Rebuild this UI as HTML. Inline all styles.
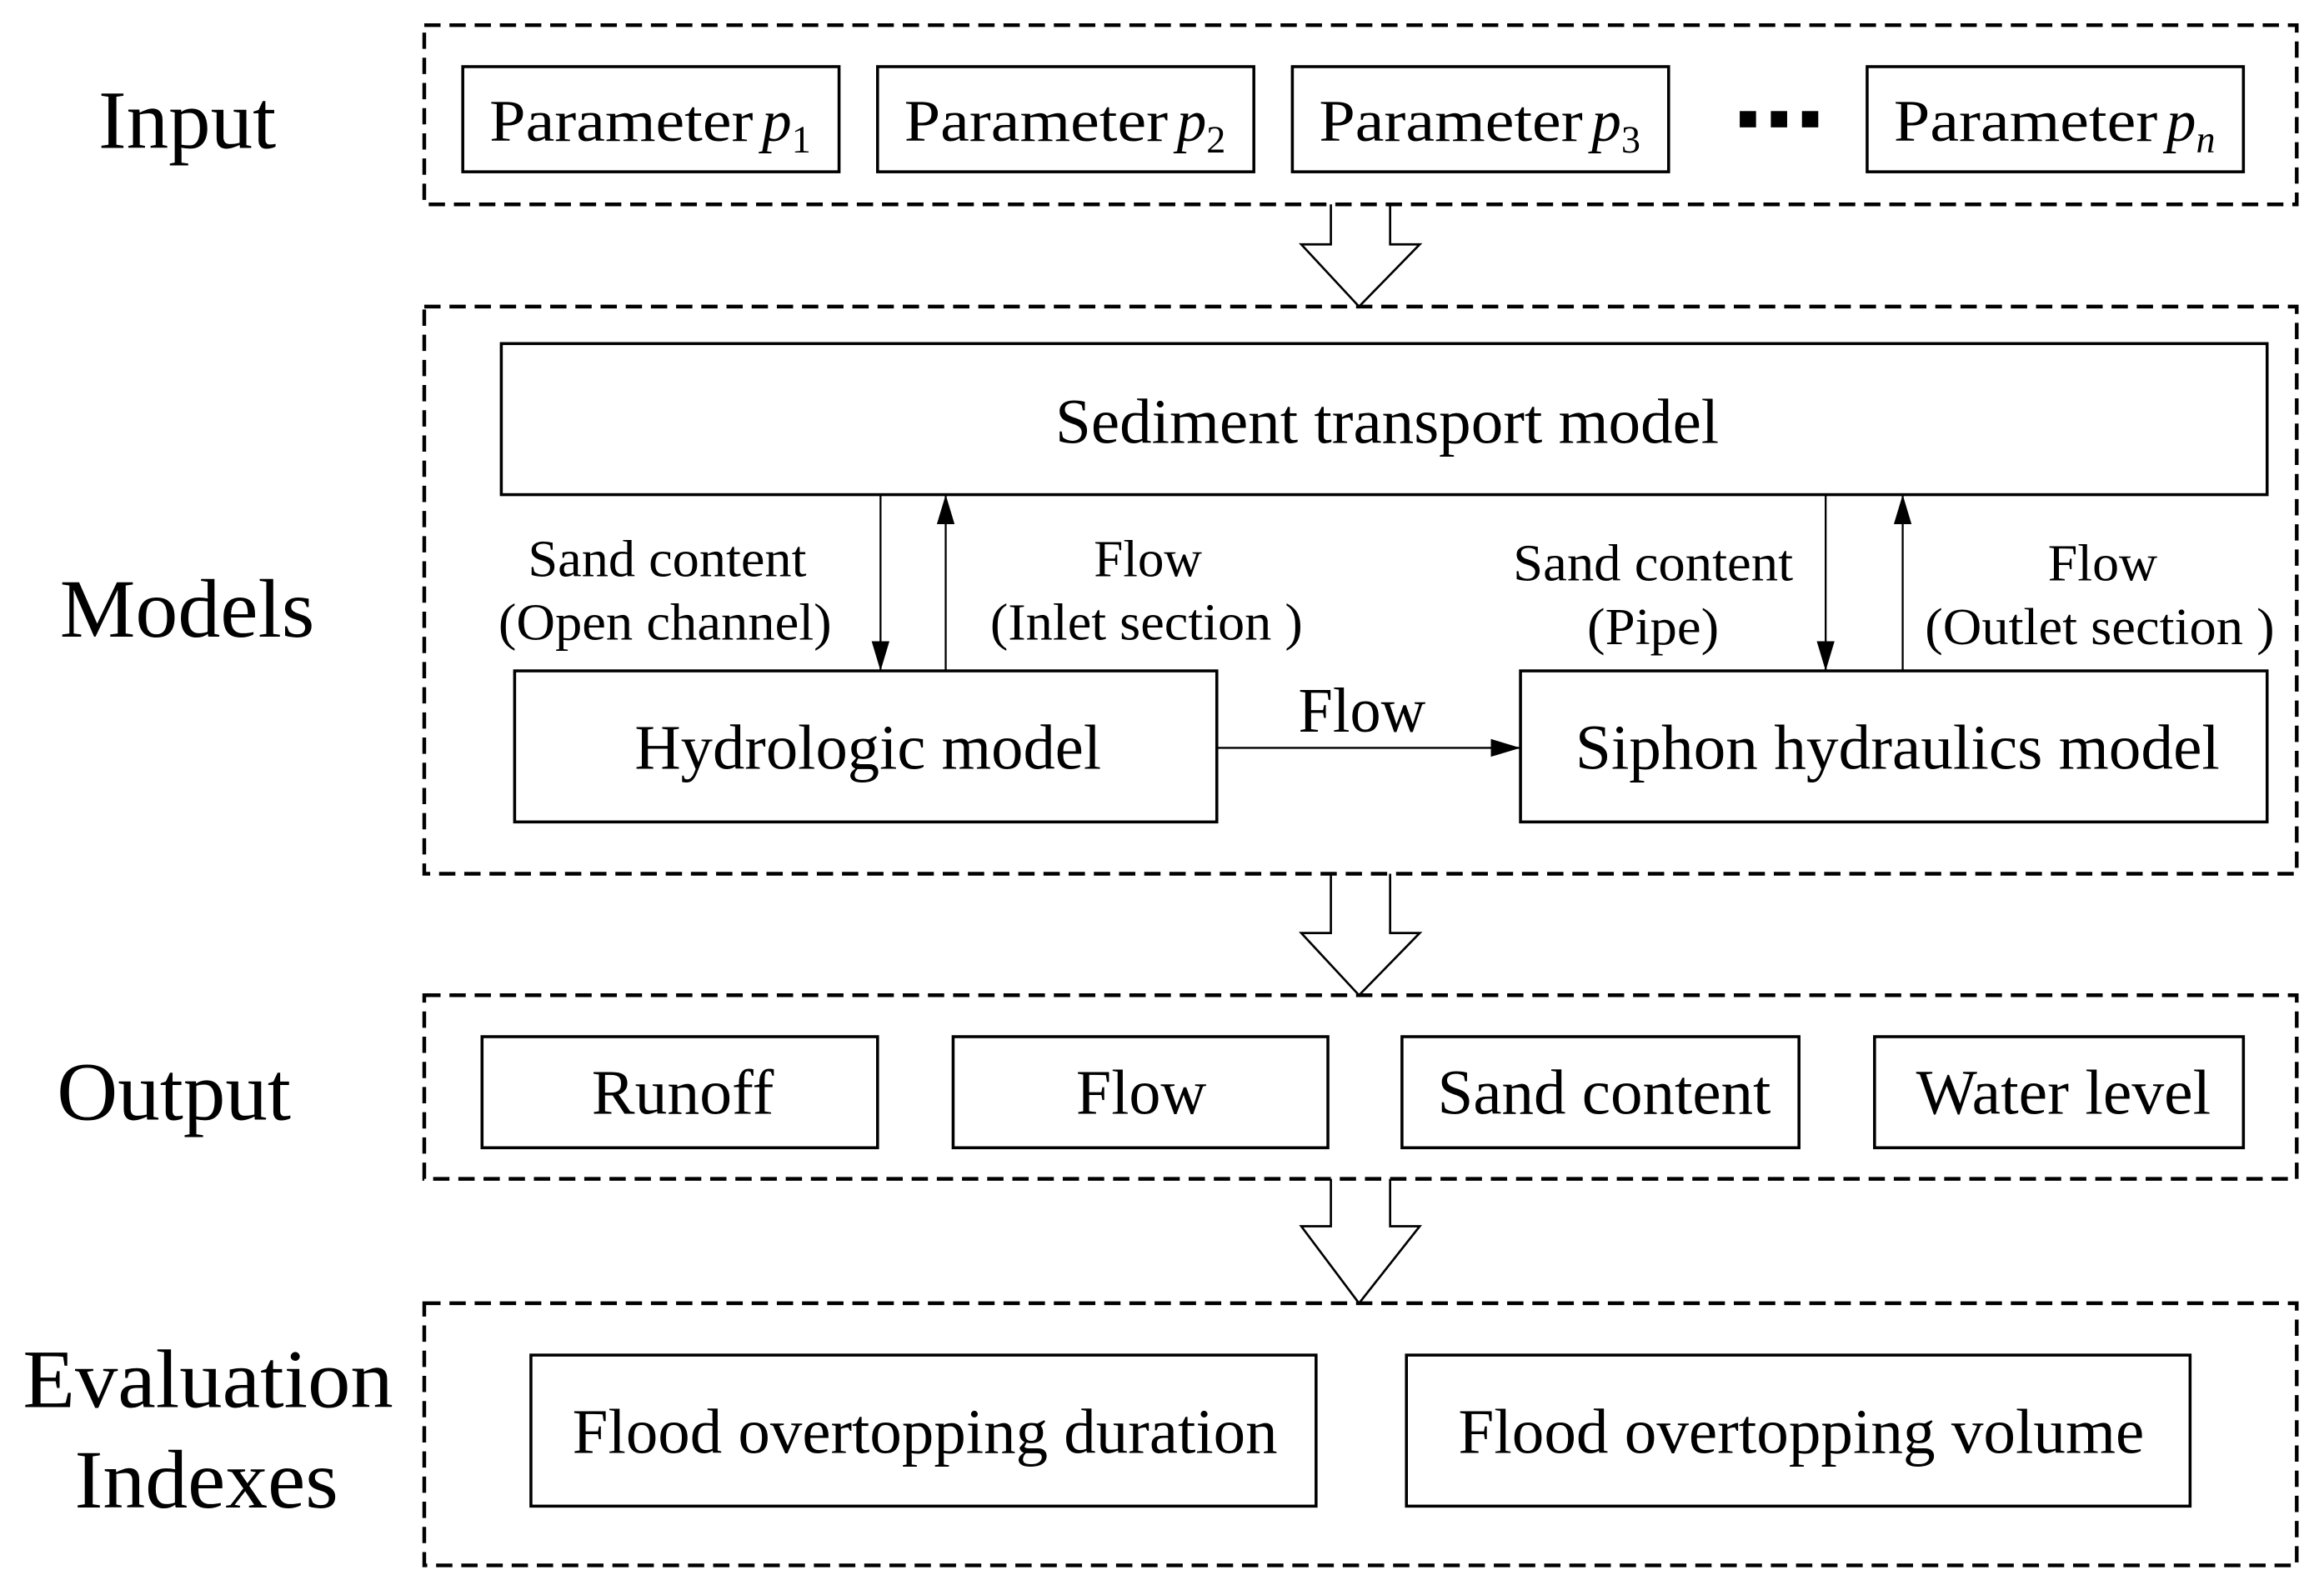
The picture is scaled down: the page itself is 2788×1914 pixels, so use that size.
<!DOCTYPE html>
<html><head><meta charset="utf-8"><style>html,body{margin:0;padding:0;background:#fff}svg{display:block}</style></head>
<body>
<svg width="2788" height="1914" viewBox="0 0 1568 1077" xmlns="http://www.w3.org/2000/svg" font-family="Liberation Serif, serif" fill="#000">
<defs>
<marker id="ahs" viewBox="0 0 10 10" refX="10" refY="5" markerWidth="20" markerHeight="20" orient="auto" markerUnits="userSpaceOnUse"><path d="M0,2 L10,5 L0,8 z"/></marker>
</defs>
<g fill="none" stroke="#000" stroke-width="2.5" stroke-dasharray="11 6">
<rect x="286" y="17" width="1264" height="121"/>
<rect x="286" y="207" width="1264" height="383"/>
<rect x="286" y="672" width="1264" height="124"/>
<rect x="286" y="880" width="1264" height="177"/>
</g>
<g fill="#fff" stroke="#000" stroke-width="2">
<rect x="312" y="45" width="254" height="71"/>
<rect x="592" y="45" width="254" height="71"/>
<rect x="872" y="45" width="254" height="71"/>
<rect x="1260" y="45" width="254" height="71"/>
<rect x="338" y="232" width="1192" height="102"/>
<rect x="347" y="453" width="474" height="102"/>
<rect x="1026" y="453" width="504" height="102"/>
<rect x="325" y="700" width="267" height="75"/>
<rect x="643" y="700" width="253" height="75"/>
<rect x="946" y="700" width="268" height="75"/>
<rect x="1265" y="700" width="249" height="75"/>
<rect x="358" y="915" width="530" height="102"/>
<rect x="949" y="915" width="529" height="102"/>
</g>
<g stroke="#000" stroke-width="1.5" fill="none">
<path d="M898,138 V165 H878 L917,207 L958,165 H938 V138" />
<path d="M898,590 V630 H878 L917,672 L958,630 H938 V590" />
<path d="M898,796 V828 H878 L917,880 L958,828 H938 V796" />
</g>
<g stroke="#000" stroke-width="1.3">
<line x1="594" y1="334" x2="594" y2="453" marker-end="url(#ahs)"/>
<line x1="638" y1="453" x2="638" y2="334" marker-end="url(#ahs)"/>
<line x1="1232" y1="334" x2="1232" y2="453" marker-end="url(#ahs)"/>
<line x1="1284" y1="453" x2="1284" y2="334" marker-end="url(#ahs)"/>
<line x1="821" y1="505" x2="1026" y2="505" marker-end="url(#ahs)"/>
</g>
<g font-size="40" lengthAdjust="spacingAndGlyphs">
<text x="330" y="95" textLength="178" lengthAdjust="spacingAndGlyphs">Parameter</text><text x="514" y="95" font-style="italic">p</text><text x="534" y="103" font-size="26">1</text>
<text x="610" y="95" textLength="178" lengthAdjust="spacingAndGlyphs">Parameter</text><text x="794" y="95" font-style="italic">p</text><text x="814" y="103" font-size="26">2</text>
<text x="890" y="95" textLength="178" lengthAdjust="spacingAndGlyphs">Parameter</text><text x="1074" y="95" font-style="italic">p</text><text x="1094" y="103" font-size="26">3</text>
<text x="1278" y="95" textLength="178" lengthAdjust="spacingAndGlyphs">Parameter</text><text x="1462" y="95" font-style="italic">p</text><text x="1482" y="103" font-size="26" font-style="italic">n</text>
</g>
<g>
<rect x="1174" y="75" width="11" height="11"/><rect x="1195" y="75" width="11" height="11"/><rect x="1216" y="75" width="11" height="11"/>
</g>
<g font-size="56">
<text x="66" y="100" textLength="120" lengthAdjust="spacingAndGlyphs">Input</text>
<text x="40" y="430" textLength="172" lengthAdjust="spacingAndGlyphs">Models</text>
<text x="38" y="756" textLength="158" lengthAdjust="spacingAndGlyphs">Output</text>
<text x="15" y="950" textLength="250" lengthAdjust="spacingAndGlyphs">Evaluation</text>
<text x="50" y="1018" textLength="178" lengthAdjust="spacingAndGlyphs">Indexes</text>
</g>
<g font-size="43">
<text x="712" y="299" textLength="448" lengthAdjust="spacingAndGlyphs">Sediment transport model</text>
<text x="428" y="519" textLength="315" lengthAdjust="spacingAndGlyphs">Hydrologic model</text>
<text x="1063" y="519" textLength="435" lengthAdjust="spacingAndGlyphs">Siphon hydraulics model</text>
<text x="876" y="494" textLength="86" lengthAdjust="spacingAndGlyphs">Flow</text>
<text x="399" y="752" textLength="123" lengthAdjust="spacingAndGlyphs">Runoff</text>
<text x="726" y="752" textLength="88" lengthAdjust="spacingAndGlyphs">Flow</text>
<text x="970" y="752" textLength="225" lengthAdjust="spacingAndGlyphs">Sand content</text>
<text x="1293" y="752" textLength="199" lengthAdjust="spacingAndGlyphs">Water level</text>
<text x="386" y="981" textLength="476" lengthAdjust="spacingAndGlyphs">Flood overtopping duration</text>
<text x="984" y="981" textLength="463" lengthAdjust="spacingAndGlyphs">Flood overtopping volume</text>
</g>
<g font-size="35">
<text x="356" y="389" textLength="188" lengthAdjust="spacingAndGlyphs">Sand content</text>
<text x="336" y="432" textLength="225" lengthAdjust="spacingAndGlyphs">(Open channel)</text>
<text x="738" y="389" textLength="73" lengthAdjust="spacingAndGlyphs">Flow</text>
<text x="668" y="432" textLength="211" lengthAdjust="spacingAndGlyphs">(Inlet section )</text>
<text x="1021" y="392" textLength="189" lengthAdjust="spacingAndGlyphs">Sand content</text>
<text x="1071" y="435" textLength="89" lengthAdjust="spacingAndGlyphs">(Pipe)</text>
<text x="1382" y="392" textLength="74" lengthAdjust="spacingAndGlyphs">Flow</text>
<text x="1299" y="435" textLength="236" lengthAdjust="spacingAndGlyphs">(Outlet section )</text>
</g>
</svg>
</body></html>
